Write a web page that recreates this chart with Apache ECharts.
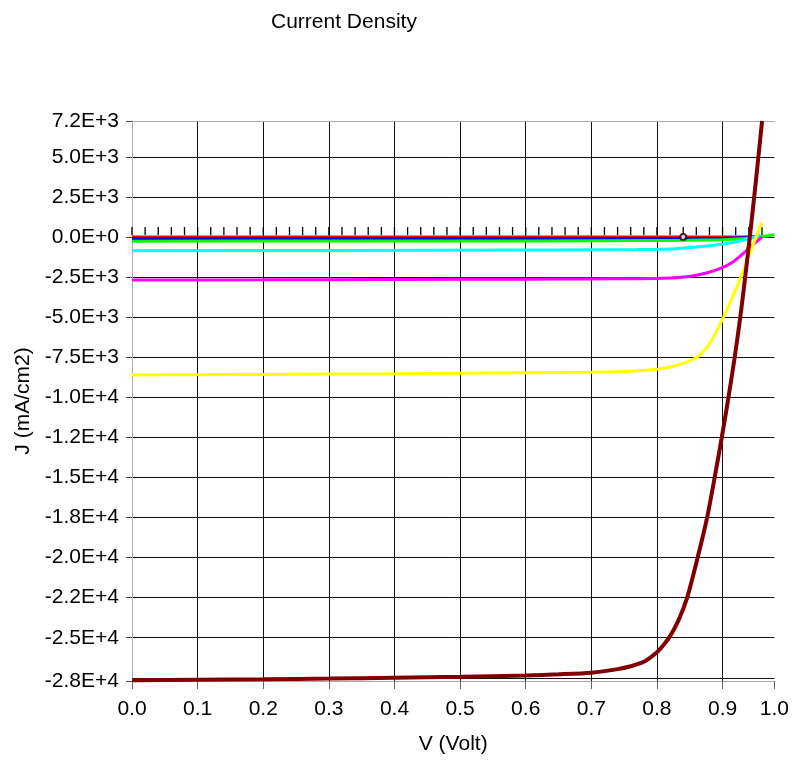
<!DOCTYPE html>
<html>
<head>
<meta charset="utf-8">
<script src="https://cdn.jsdelivr.net/npm/echarts@6/dist/echarts.min.js"></script>
<style>
html, body { margin: 0; padding: 0; background: #fff; }
#chart { width: 792px; height: 766px; }
</style>
</head>
<body>
<div id="chart"></div>
<script>
// axis ranges / ticks
var xMin = 0, xMax = 0.979;
var yMin = -27700, yMax = 7240;
var xTickValues = [0, 0.1, 0.2, 0.3, 0.4, 0.5, 0.6, 0.7, 0.8, 0.9, 0.979];
var yGridValues = [-27500, -25000, -22500, -20000, -17500, -15000, -12500, -10000, -7500, -5000, -2500, 0, 2500, 5000];
var yLabelValues = [-27700, -25000, -22500, -20000, -17500, -15000, -12500, -10000, -7500, -5000, -2500, 0, 2500, 5000, 7240];
var yLabelTexts = ['-2.8E+4', '-2.5E+4', '-2.2E+4', '-2.0E+4', '-1.8E+4', '-1.5E+4', '-1.2E+4', '-1.0E+4',
  '-7.5E+3', '-5.0E+3', '-2.5E+3', '0.0E+0', '2.5E+3', '5.0E+3', '7.2E+3'];

// black reference line with markers
var blackV = [0, 0.02, 0.04, 0.06, 0.08, 0.1, 0.12, 0.14, 0.16, 0.18, 0.2, 0.22, 0.24, 0.26, 0.28, 0.3,
  0.32, 0.34, 0.36, 0.38, 0.4, 0.42, 0.44, 0.46, 0.48, 0.5, 0.52, 0.54, 0.56, 0.58, 0.6, 0.62, 0.64,
  0.66, 0.68, 0.7, 0.72, 0.74, 0.76, 0.78, 0.8, 0.82, 0.84, 0.86, 0.88, 0.9, 0.92, 0.94, 0.96];
var blackJ = [0, 0, 0, 0, 0, 0, 0, 0, 0, 0, 0, 0, 0, 0, 0, 0, 0, 0, 0, 0, 0, 0, 0, 0, 0,
  0, 0, 0, 0, 0, 0, 0, 0, 0, 0, 0, 0, 0, 0, 0, 0, 0, 0, 0, 0, 0, 0, 0, 0];
var mppV = [0.84];
var mppJ = [0];

var redV = [0, 0.2, 0.4, 0.6, 0.8, 0.9, 0.95];
var redJ = [0, 0, 0, 0, 0, 0, 10];

var blueV = [0, 0.3, 0.6, 0.85, 0.9, 0.93, 0.95];
var blueJ = [-95, -95, -95, -90, -78, -40, 30];

var greenV = [0, 0.3, 0.6, 0.85, 0.9, 0.93, 0.95, 0.96, 0.979];
var greenJ = [-255, -250, -242, -205, -170, -110, -20, 40, 140];

var cyanV = [0, 0.3, 0.6, 0.7, 0.77, 0.82, 0.86, 0.9, 0.925, 0.944, 0.957];
var cyanJ = [-855, -840, -812, -800, -785, -745, -620, -430, -260, -60, 110];

var magentaV = [0, 0.2, 0.4, 0.6, 0.7, 0.77, 0.81, 0.843, 0.874, 0.899, 0.915, 0.93, 0.945, 0.96];
var magentaJ = [-2680, -2670, -2650, -2630, -2615, -2600, -2575, -2500, -2260, -1930, -1580, -1080, -520, 0];

var yellowV = [0, 0.1, 0.2, 0.3, 0.4, 0.5, 0.6, 0.7, 0.76, 0.8, 0.82, 0.84, 0.861, 0.87, 0.879, 0.89,
  0.9015, 0.915, 0.928, 0.94, 0.951, 0.96];
var yellowJ = [-8600, -8590, -8570, -8550, -8530, -8500, -8470, -8430, -8380, -8250, -8110, -7880, -7500,
  -7170, -6720, -5950, -5000, -3760, -2500, -1220, 0, 900];

var maroonV = [0, 0.1, 0.2, 0.3, 0.4, 0.5, 0.6, 0.65, 0.7, 0.74, 0.76, 0.78, 0.8, 0.81, 0.82, 0.833,
  0.846, 0.862, 0.8765, 0.888, 0.8988, 0.909, 0.9185, 0.927, 0.9345, 0.9415, 0.9482, 0.9546, 0.9602];
var maroonJ = [-27650, -27620, -27590, -27550, -27500, -27440, -27350, -27280, -27180, -26960, -26780,
  -26500, -25900, -25450, -24900, -23900, -22500, -20000, -17500, -15000, -12500, -10000, -7500,
  -5000, -2500, 0, 2500, 5000, 7240];

var fontFam = '"Liberation Sans", Arial, sans-serif';

function pairs(v, j) {
  return v.map(function (x, i) { return [x, j[i]]; });
}

function curve(name, color, v, j, width, z) {
  return {
    name: name,
    type: 'line',
    data: pairs(v, j),
    symbol: 'none',
    smooth: 0.25,
    clip: true,
    z: z,
    lineStyle: { color: color, width: width },
    itemStyle: { color: color }
  };
}

var myChart = echarts.init(document.getElementById('chart'));

option = {
  animation: false,
  backgroundColor: '#fff',
  title: {
    text: 'Current Density',
    left: 271,
    top: 12,
    padding: 0,
    textStyle: { fontFamily: fontFam, fontSize: 21, fontWeight: 'normal', color: '#000' }
  },
  grid: { left: 132, right: 16, top: 121, bottom: 85, containLabel: false },
  xAxis: [
    {
      type: 'value',
      min: xMin,
      max: xMax,
      position: 'bottom',
      name: 'V (Volt)',
      nameLocation: 'middle',
      nameGap: 53,
      nameTextStyle: { fontFamily: fontFam, fontSize: 21, color: '#000' },
      axisLine: { onZero: false, lineStyle: { color: '#aaa', width: 1 } },
      axisTick: { show: true, length: 8, customValues: xTickValues, lineStyle: { color: '#666' } },
      axisLabel: {
        customValues: xTickValues,
        margin: 18,
        fontFamily: fontFam,
        fontSize: 21,
        color: '#000',
        formatter: function (v) { return v.toFixed(1); }
      },
      splitLine: { show: true, showMinLine: false, showMaxLine: false, lineStyle: { color: '#111', width: 1 } }
    },
    {
      type: 'value',
      min: xMin,
      max: xMax,
      position: 'top',
      axisLine: { onZero: false, lineStyle: { color: '#aaa', width: 1 } },
      axisTick: { show: false },
      axisLabel: { show: false },
      splitLine: { show: false }
    }
  ],
  yAxis: [
    {
      type: 'value',
      min: yMin,
      max: yMax,
      position: 'left',
      name: 'J (mA/cm2)',
      nameLocation: 'middle',
      nameGap: 94,
      nameTextStyle: { fontFamily: fontFam, fontSize: 21, color: '#000' },
      axisLine: { show: true, onZero: false, lineStyle: { color: '#aaa', width: 1 } },
      axisTick: { show: false, customValues: yGridValues },
      axisLabel: {
        customValues: yLabelValues,
        margin: 13,
        fontFamily: fontFam,
        fontSize: 21,
        color: '#000',
        formatter: function (v) {
          var best = 0;
          for (var i = 1; i < yLabelValues.length; i++) {
            if (Math.abs(yLabelValues[i] - v) < Math.abs(yLabelValues[best] - v)) best = i;
          }
          return yLabelTexts[best];
        }
      },
      splitLine: { show: true, showMinLine: true, showMaxLine: true, lineStyle: { color: '#111', width: 1 } }
    },
    {
      type: 'value',
      min: yMin,
      max: yMax,
      position: 'left',
      axisLine: { show: false },
      axisTick: { show: true, length: 6, customValues: yLabelValues, lineStyle: { color: '#444' } },
      axisLabel: { show: false },
      splitLine: { show: false }
    }
  ],
  series: [
    {
      name: 'ref',
      type: 'line',
      data: pairs(blackV, blackJ),
      symbol: 'rect',
      symbolSize: [1.3, 8],
      symbolOffset: [0, -6],
      showSymbol: true,
      showAllSymbol: true,
      z: 2,
      lineStyle: { color: '#000', width: 1 },
      itemStyle: { color: '#000' }
    },
    curve('red', '#ff0000', redV, redJ, 3, 3),
    curve('blue', '#0000ff', blueV, blueJ, 3, 4),
    curve('green', '#00ff00', greenV, greenJ, 3, 5),
    curve('cyan', '#00ffff', cyanV, cyanJ, 3, 6),
    curve('magenta', '#ff00ff', magentaV, magentaJ, 3, 7),
    curve('yellow', '#ffff00', yellowV, yellowJ, 3, 8),
    curve('maroon', '#800000', maroonV, maroonJ, 4, 9),
    {
      name: 'mpp',
      type: 'scatter',
      data: pairs(mppV, mppJ),
      symbol: 'emptyCircle',
      symbolSize: 6,
      z: 10,
      itemStyle: { color: '#000', borderColor: '#000', borderWidth: 1.2 }
    }
  ]
};

myChart.setOption(option);
</script>
</body>
</html>
